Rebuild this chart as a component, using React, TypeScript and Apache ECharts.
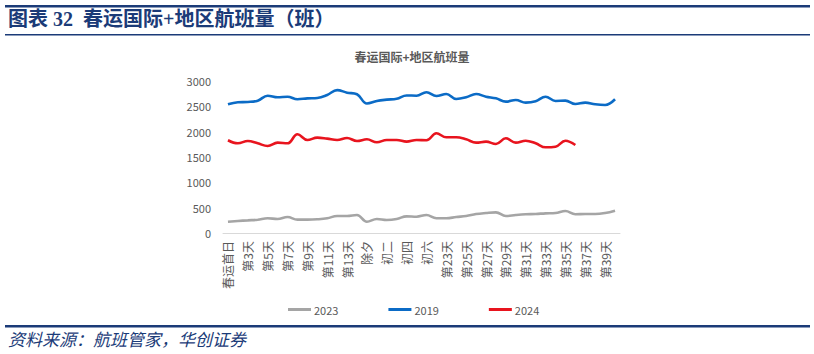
import React, { useEffect, useRef } from "react";
import * as echarts from "echarts";

const days: string[] = [
  "春运首日", "第2天", "第3天", "第4天", "第5天", "第6天", "第7天", "第8天", "第9天", "第10天",
  "第11天", "第12天", "第13天", "第14天", "除夕", "初一", "初二", "初三", "初四", "初五",
  "初六", "初七", "第23天", "第24天", "第25天", "第26天", "第27天", "第28天", "第29天", "第30天",
  "第31天", "第32天", "第33天", "第34天", "第35天", "第36天", "第37天", "第38天", "第39天", "第40天",
];

const s2023: number[] = [
  223, 237, 250, 263, 290, 276, 316, 263, 263, 270,
  290, 336, 336, 355, 223, 276, 257, 276, 329, 322,
  355, 290, 290, 316, 336, 375, 395, 408, 336, 355,
  369, 375, 388, 395, 434, 369, 375, 375, 395, 441,
];

const s2019: number[] = [
  2540, 2580, 2586, 2612, 2710, 2678, 2690, 2639, 2658, 2665,
  2724, 2820, 2770, 2738, 2555, 2605, 2632, 2650, 2715, 2710,
  2777, 2704, 2744, 2645, 2678, 2744, 2690, 2658, 2592, 2625,
  2573, 2600, 2690, 2606, 2612, 2546, 2573, 2540, 2527, 2639,
];

const s2024: number[] = [
  1830, 1770, 1816, 1770, 1717, 1783, 1770, 1948, 1836, 1882,
  1862, 1836, 1875, 1816, 1849, 1790, 1836, 1836, 1803, 1836,
  1830, 1968, 1889, 1889, 1849, 1783, 1803, 1757, 1869, 1783,
  1822, 1770, 1691, 1704, 1822, 1737,
];

const yTicks = { min: 0, max: 3000, interval: 500 };

const NAVY = "#1b3b78";
const CJK = "'Noto Sans CJK SC', 'Noto Sans', sans-serif";

export default function App() {
  const ref = useRef<HTMLDivElement>(null);
  useEffect(() => {
    if (!ref.current) return;
    const chart = echarts.init(ref.current, undefined, { renderer: "svg" });
    const mk = (name: string, data: number[], color: string) => ({
      name,
      type: "line",
      data,
      smooth: 0.4,
      symbol: "none",
      lineStyle: { width: 2.6, color },
      itemStyle: { color },
    });
    chart.setOption({
      animation: false,
      backgroundColor: "#ffffff",
      title: {
        text: "春运国际+地区航班量",
        left: 407,
        textAlign: "center",
        top: 45,
        textStyle: { fontSize: 12, fontWeight: "bold", color: "#595959", fontFamily: CJK },
      },
      grid: { left: 223, right: 194, top: 81, bottom: 121 },
      legend: {
        data: ["2023", "2019", "2024"],
        left: 283,
        top: 299,
        icon: "rect",
        itemWidth: 23,
        itemHeight: 3,
        itemGap: 50,
        textStyle: { fontSize: 11, color: "#595959", fontFamily: CJK, padding: [0, 0, 0, -2] },
      },
      xAxis: {
        type: "category",
        data: days,
        boundaryGap: true,
        axisLine: { lineStyle: { color: "#D9D9D9" } },
        axisTick: { show: false },
        axisLabel: {
          interval: 1,
          rotate: 90,
          fontSize: 12,
          color: "#595959",
          fontFamily: CJK,
          margin: 8,
        },
      },
      yAxis: {
        type: "value",
        min: yTicks.min,
        max: yTicks.max,
        interval: yTicks.interval,
        splitLine: { show: false },
        axisLine: { show: false },
        axisTick: { show: false },
        axisLabel: {
          fontSize: 11,
          color: "#595959",
          fontFamily: CJK,
          margin: 12,
          formatter: (v: number) => String(v),
        },
      },
      series: [mk("2023", s2023, "#A5A5A5"), mk("2019", s2019, "#0B6BC6"), mk("2024", s2024, "#E8141E")],
      graphic: [
        { type: "rect", shape: { x: 5, y: 5, width: 805, height: 2.5 }, style: { fill: NAVY } },
        {
          type: "text",
          x: 8,
          y: 9,
          style: {
            text: "图表 32  春运国际+地区航班量（班）",
            fontSize: 20,
            fontWeight: "bold",
            fill: NAVY,
            fontFamily: "'Liberation Serif', 'Noto Sans CJK SC', serif",
          },
        },
        { type: "rect", shape: { x: 5, y: 34, width: 805, height: 1.5 }, style: { fill: NAVY } },
        { type: "rect", shape: { x: 5, y: 325, width: 805, height: 2.5 }, style: { fill: NAVY } },
        {
          type: "text",
          x: 8,
          y: 330,
          style: {
            text: "资料来源：航班管家，华创证券",
            fontSize: 17,
            fontStyle: "italic",
            fill: NAVY,
            fontFamily: CJK,
          },
        },
      ],
    });
    return () => chart.dispose();
  }, []);
  return (
    <div
      ref={ref}
      style={{ position: "absolute", left: 0, top: 0, width: 814, height: 354, background: "#fff" }}
    />
  );
}
